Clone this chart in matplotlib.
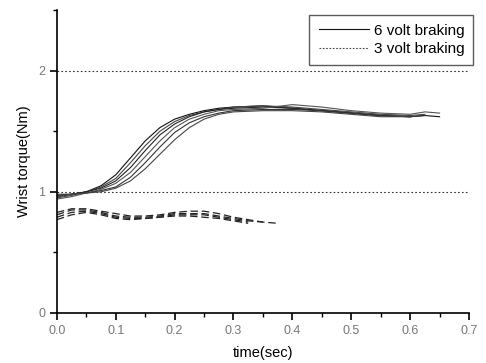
import matplotlib.pyplot as plt
from matplotlib.ticker import MultipleLocator

plt.rcParams['font.family'] = ['Liberation Sans', 'DejaVu Sans']

# time grids (sec)
t6 = [0, 0.025, 0.05, 0.075, 0.1, 0.125, 0.15, 0.175, 0.2, 0.225, 0.25,
      0.275, 0.3, 0.35, 0.4, 0.45, 0.5, 0.55, 0.6, 0.625, 0.65]
t3 = [0, 0.025, 0.05, 0.075, 0.1, 0.125, 0.15, 0.175, 0.2, 0.225, 0.25,
      0.275, 0.3, 0.325, 0.35, 0.375]

# 6 volt braking trials (Nm)
six_a = [0.96, 0.98, 1.00, 1.05, 1.14, 1.28, 1.42, 1.53, 1.60, 1.64, 1.67,
         1.69, 1.70, 1.71, 1.69, 1.67, 1.65, 1.63, 1.62, 1.63, 1.62]
six_b = [0.95, 0.97, 1.00, 1.04, 1.11, 1.24, 1.38, 1.50, 1.58, 1.63, 1.66,
         1.68, 1.70, 1.71, 1.70, 1.68, 1.66, 1.64, 1.63, 1.64]
six_c = [0.97, 0.98, 1.00, 1.03, 1.09, 1.20, 1.34, 1.47, 1.56, 1.62, 1.66,
         1.68, 1.69, 1.70, 1.69, 1.67, 1.65, 1.63, 1.62]
six_d = [0.94, 0.96, 0.99, 1.02, 1.07, 1.16, 1.29, 1.42, 1.53, 1.60, 1.64,
         1.67, 1.68, 1.69, 1.72, 1.70, 1.67, 1.65, 1.64, 1.66, 1.65]
six_e = [0.98, 0.98, 0.99, 1.01, 1.04, 1.12, 1.24, 1.37, 1.49, 1.57, 1.62,
         1.65, 1.67, 1.68, 1.68, 1.67, 1.65, 1.63, 1.62, 1.63]
six_f = [0.96, 0.98, 0.99, 1.00, 1.03, 1.09, 1.19, 1.31, 1.43, 1.53, 1.60,
         1.64, 1.66, 1.67, 1.67, 1.66, 1.64, 1.62, 1.62]
six_volt = [six_a, six_b, six_c, six_d, six_e, six_f]
six_colors = ['#111111', '#444444', '#222222', '#555555', '#333333', '#444444']

# 3 volt braking trials (Nm)
three_a = [0.83, 0.86, 0.86, 0.84, 0.82, 0.80, 0.80, 0.81, 0.83, 0.84, 0.84,
           0.82, 0.79, 0.77, 0.75]
three_b = [0.81, 0.85, 0.85, 0.83, 0.80, 0.79, 0.79, 0.80, 0.82, 0.82, 0.82,
           0.80, 0.78, 0.76, 0.75, 0.74]
three_c = [0.79, 0.83, 0.84, 0.82, 0.79, 0.78, 0.78, 0.79, 0.81, 0.81, 0.81,
           0.79, 0.77, 0.75]
three_d = [0.77, 0.81, 0.83, 0.81, 0.78, 0.77, 0.78, 0.79, 0.80, 0.80, 0.79,
           0.78, 0.76, 0.74]
three_volt = [three_a, three_b, three_c, three_d]

ref_levels = [1, 2]

fig = plt.figure(figsize=(4.86, 3.63), dpi=100)
ax = fig.add_axes([0.117, 0.138, 0.848, 0.834])

# dotted reference lines
for lvl in ref_levels:
    ax.plot([0, 0.7], [lvl, lvl], color='#333333', lw=0.8, ls=(0, (1.5, 2)))

for i, y in enumerate(six_volt):
    ax.plot(t6[:len(y)], y, color=six_colors[i], lw=0.8,
            label='6 volt braking' if i == 0 else None)

for y in three_volt:
    ax.plot(t3[:len(y)], y, color='#222222', lw=0.9, ls=(0, (6, 3)))

# legend proxy for the dotted style
ax.plot([], [], color='#444444', lw=0.8, ls=(0, (1.5, 1.5)), label='3 volt braking')

ax.set_xlim(0, 0.7)
ax.set_ylim(0, 2.5)
ax.spines['top'].set_visible(False)
ax.spines['right'].set_visible(False)
ax.spines['left'].set_linewidth(1.2)
ax.spines['bottom'].set_linewidth(1.2)

ax.xaxis.set_major_locator(MultipleLocator(0.1))
ax.xaxis.set_minor_locator(MultipleLocator(0.05))
ax.yaxis.set_major_locator(MultipleLocator(1))
ax.yaxis.set_minor_locator(MultipleLocator(0.5))
ax.tick_params(which='major', direction='out', length=5, width=1.2,
               labelsize=9, labelcolor='#777777')
ax.tick_params(which='minor', direction='out', length=3, width=1.0)
ax.set_xticklabels([f'{v:.1f}' for v in ax.get_xticks()])

ax.set_xlabel('time(sec)', fontsize=10.5, labelpad=7)
ax.set_ylabel('Wrist torque(Nm)', fontsize=10.5, labelpad=5)

ax.legend(loc='upper right', bbox_to_anchor=(0.974, 0.96),
          bbox_transform=fig.transFigure, fontsize=11, frameon=True,
          fancybox=False, edgecolor='#333333', handlelength=3.3,
          handletextpad=0.3, borderpad=0.6, labelspacing=0.3, borderaxespad=0)

fig.savefig('out.png', dpi=100)
